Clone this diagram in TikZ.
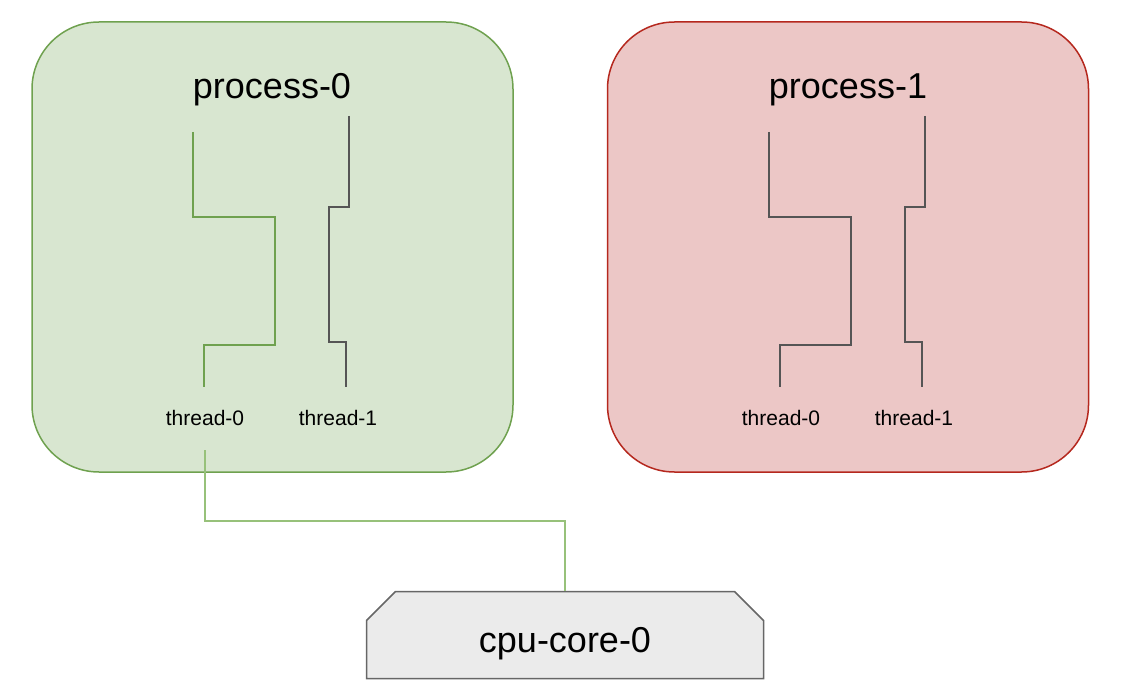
\documentclass[tikz,border=0pt]{standalone}
\usepackage{fontspec}
\setmainfont{Liberation Sans}
\usetikzlibrary{shapes.misc}

\definecolor{greenfill}{HTML}{D8E6D0}
\definecolor{greenline}{HTML}{6FA14F}
\definecolor{greenlink}{HTML}{97C17A}
\definecolor{redfill}{HTML}{ECC7C6}
\definecolor{redline}{HTML}{B5281E}
\definecolor{threadgray}{HTML}{555555}
\definecolor{corefill}{HTML}{EBEBEB}
\definecolor{coreline}{HTML}{666666}

\tikzset{
  procbox/.style={draw, line width=1.5pt, rounded corners=67pt,
    minimum width=481pt, minimum height=450pt, inner sep=0pt},
  proctitle/.style={anchor=base, inner sep=0pt, font=\fontsize{36}{40}\selectfont},
  threadlabel/.style={anchor=base, inner sep=0pt, font=\fontsize{21}{24}\selectfont},
  thread/.style={line width=1.6pt, threadgray},
  corebox/.style={draw=coreline, fill=corefill, line width=1.5pt,
    chamfered rectangle, chamfered rectangle corners={north west,north east},
    chamfered rectangle xsep=15pt, chamfered rectangle ysep=14pt,
    minimum width=397pt, minimum height=87pt, inner sep=0pt,
    text height=35pt, text depth=0pt,
    font=\fontsize{36}{40}\selectfont},
  link/.style={line width=1.6pt, greenlink}
}

\begin{document}
\begin{tikzpicture}[x=1pt,y=-1pt]
\useasboundingbox (0,0) rectangle (1146,700);

% processes
\node[procbox, draw=greenline, fill=greenfill] (p0) at (272.5,247) {};
\node[procbox, draw=redline, fill=redfill] (p1) at (848,247) {};
\node[proctitle] (p0t) at (272,99) {process-0};
\node[proctitle] (p1t) at (848,99) {process-1};

% threads of process-0
\draw[thread, greenline] (193,132) -- (193,217) -- (275,217) -- (275,345) -- (204,345) -- (204,387);
\draw[thread] (349,116) -- (349,207) -- (329,207) -- (329,342) -- (346,342) -- (346,387);
\node[threadlabel] (t00) at (205,425) {thread-0};
\node[threadlabel] (t01) at (338,425) {thread-1};

% threads of process-1
\draw[thread] (769,132) -- (769,217) -- (851,217) -- (851,345) -- (780,345) -- (780,387);
\draw[thread] (925,116) -- (925,207) -- (905,207) -- (905,342) -- (922,342) -- (922,387);
\node[threadlabel] (t10) at (781,425) {thread-0};
\node[threadlabel] (t11) at (914,425) {thread-1};

% core
\node[corebox] (cpu) at (565,635) {cpu-core-0};
\coordinate (c0) at (205,450);
\draw[link] (c0) -- ++(0,71) -| (cpu.north);
\end{tikzpicture}
\end{document}
